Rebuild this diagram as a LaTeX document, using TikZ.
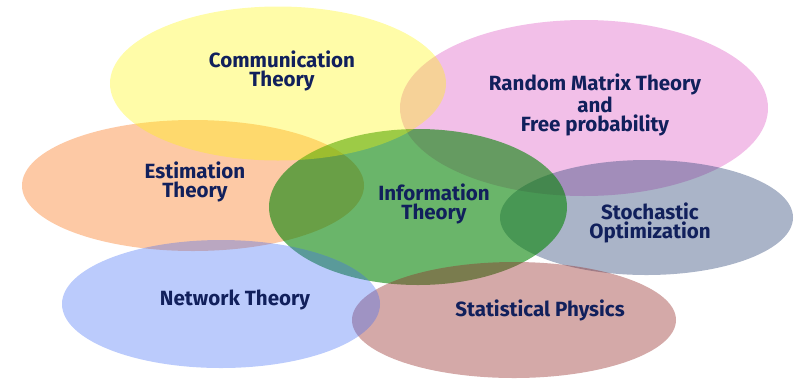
\documentclass[tikz,border=0pt]{standalone}
\usepackage{fontspec}
\setmainfont{Fira Sans}
\usepackage{tikz}
\usetikzlibrary{shapes.geometric}

\definecolor{rmtpink}{RGB}{229,127,209}
\definecolor{estorange}{RGB}{251,147,75}
\definecolor{stoslate}{RGB}{42,67,117}
\definecolor{infgreen}{RGB}{7,132,7}
\definecolor{statbrown}{RGB}{147,40,37}
\definecolor{netblue}{RGB}{61,106,246}
\definecolor{commyellow}{RGB}{255,246,6}
\definecolor{topicnavy}{RGB}{17,32,92}

\begin{document}
\begin{tikzpicture}[field/.style n args={2}{ellipse, inner sep=0pt, fill=#1, fill opacity=#2},
			topic/.style={text=topicnavy, font=\bfseries\fontsize{11.7}{10.8}\selectfont, align=center}]
			\useasboundingbox (0,0) rectangle (15.88,-7.64);
			
			\node[field={rmtpink}{0.5}, minimum width=7.36cm, minimum height=3.52cm](rmt) at (11.68,-2.16) {};
			\node[field={estorange}{0.5}, minimum width=6.84cm, minimum height=2.62cm](est) at (3.86,-3.71) {};
			\node[field={stoslate}{0.4}, minimum width=5.86cm, minimum height=2.30cm](sto) at (12.93,-4.35) {};
			\node[field={infgreen}{0.6}, minimum width=5.96cm, minimum height=3.12cm](inf) at (8.36,-4.14) {};
			\node[field={statbrown}{0.4}, minimum width=6.48cm, minimum height=2.32cm](stat) at (10.28,-6.40) {};
			\node[field={netblue}{0.35}, minimum width=6.36cm, minimum height=2.56cm](net) at (4.42,-6.08) {};
			\node[field={commyellow}{0.35}, minimum width=6.72cm, minimum height=3.08cm](comm) at (5.56,-1.67) {};
			
			\node[topic](commtext) at (5.64,-1.42) {Communication\\Theory};
			\node[topic](rmttext) at (11.90,-2.10) {Random Matrix Theory\\and\\Free probability};
			\node[topic](esttext) at (3.90,-3.64) {Estimation\\Theory};
			\node[topic](inftext) at (8.68,-4.08) {Information\\Theory};
			\node[topic](stotext) at (13.00,-4.46) {Stochastic\\Optimization};
			\node[topic](nettext) at (4.70,-6.00) {Network Theory};
			\node[topic](stattext) at (10.80,-6.20) {Statistical Physics};
			\end{tikzpicture}
\end{document}
